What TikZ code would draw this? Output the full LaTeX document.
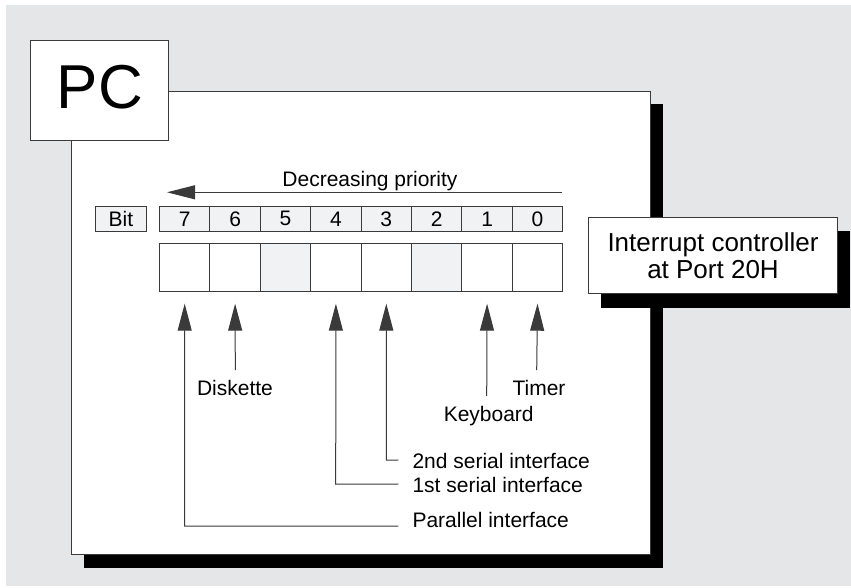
\documentclass[tikz,border=0pt]{standalone}
\usepackage{fontspec}
\setmainfont{Liberation Sans}
\usetikzlibrary{arrows.meta}
\definecolor{bggray}{HTML}{E5E6E8}
\definecolor{cellgray}{HTML}{F1F2F4}
\definecolor{edge}{HTML}{3A3A3A}
\tikzset{
  box/.style={draw=edge, line width=1pt, fill=white, inner sep=0pt},
  cellbox/.style={box, minimum width=50.4pt, minimum height=24.7pt, font=\fontsize{21}{24}\selectfont},
  lowbox/.style={box, minimum width=50.4pt, minimum height=47.4pt},
  lbl/.style={inner sep=0pt, font=\fontsize{21}{24}\selectfont},
  conn/.style={draw=edge, line width=1pt},
  uparrow/.style={conn, -{Triangle[length=27pt,width=14pt]}},
  shadow/.style={fill=black}
}
\begin{document}
\begin{tikzpicture}[x=1pt,y=-1pt]
\useasboundingbox (0,0) rectangle (851,587);
\fill[bggray] (6,5) rectangle (851,586);
% main panel
\fill[shadow] (84,104) rectangle (663,568);
\draw[box] (71,91) rectangle (650,554);
% PC box
\node[box, minimum width=138pt, minimum height=100pt, anchor=north west] (pcbox) at (30,40) {};
\node[inner sep=0pt, anchor=base, font=\fontsize{62}{64}\selectfont] (pc) at (100,108) {PC};
% interrupt controller
\fill[shadow] (601,231) rectangle (850,308);
\node[box, minimum width=249pt, minimum height=76pt, anchor=north west, align=center,
      font=\fontsize{26}{26.7}\selectfont] (ic) at (588,217) {Interrupt controller\\at Port 20H};
% priority arrow
\coordinate (prstart) at (562,192.3);
\coordinate (prend) at (167,192.3);
\draw[conn, -{Triangle[length=28pt,width=14pt]}] (prstart) -- (prend);
\node[lbl, anchor=base] (prio) at (370,186.7) {Decreasing priority};
% Bit label
\node[box, fill=cellgray, minimum width=50.7pt, minimum height=24.7pt, anchor=north west,
      font=\fontsize{21}{24}\selectfont] (bit) at (95,206) {Bit};
% bit cells
\foreach \b/\i in {7/0,6/1,5/2,4/3,3/4,2/5,1/6,0/7}{
  \node[cellbox, fill=cellgray, anchor=north west] (b\b) at (159+50.4*\i,206) {\b};
}
\foreach \b/\i/\f in {7/0/white,6/1/white,5/2/cellgray,4/3/white,3/4/white,2/5/cellgray,1/6/white,0/7/white}{
  \node[lowbox, fill=\f, anchor=north west] (c\b) at (159+50.4*\i,243.3) {};
}
% labels
\node[lbl, anchor=base] (disk) at (235,395.7) {Diskette};
\node[lbl, anchor=base] (timer) at (539,395.7) {Timer};
\node[lbl, anchor=base] (kbd) at (488.7,421.7) {Keyboard};
\node[lbl, anchor=base west] (ser2) at (412.3,468.3) {2nd serial interface};
\node[lbl, anchor=base west] (ser1) at (412.3,492.7) {1st serial interface};
\node[lbl, anchor=base west] (par) at (412.3,527.3) {Parallel interface};
% connector end points
\coordinate (diskend) at (235.3,370);
\coordinate (timerend) at (536.7,370);
\coordinate (kbdend) at (486.7,396);
\coordinate (ser2corner) at (386.3,460);
\coordinate (ser2end) at (398.3,460);
\coordinate (ser1corner) at (335.7,484);
\coordinate (ser1end) at (398.3,484);
\coordinate (parcorner) at (184.5,526);
\coordinate (parend) at (398.3,526);
% arrows
\draw[uparrow] (diskend) -- ([yshift=-12pt]c6.south);
\draw[uparrow] (timerend) -- ([yshift=-12pt]c0.south);
\draw[uparrow] (kbdend) -- ([yshift=-12pt]c1.south);
\draw[uparrow] (ser2end) -- (ser2corner) -- ([yshift=-12pt]c3.south);
\draw[uparrow] (ser1end) -- (ser1corner) -- ([yshift=-12pt]c4.south);
\draw[uparrow] (parend) -- (parcorner) -- ([yshift=-12pt]c7.south);
\end{tikzpicture}
\end{document}
